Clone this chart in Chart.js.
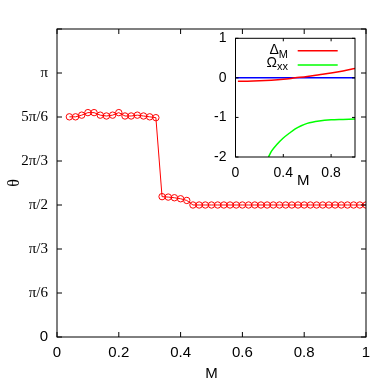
<!DOCTYPE html>
<html><head><meta charset="utf-8">
<script src="https://cdn.jsdelivr.net/npm/chart.js@4.4.0/dist/chart.umd.min.js"></script>
<style>
html,body{margin:0;padding:0;background:#fff;}
#wrap{position:relative;width:382px;height:382px;overflow:hidden;}
#main{position:absolute;left:0;top:0;}
#inset{position:absolute;left:185px;top:28px;}
</style></head><body>
<div id="wrap"><canvas id="main" width="382" height="382"></canvas><canvas id="inset" width="185" height="165"></canvas></div>
<script>
const PI = Math.PI;

// ---- main panel data ----
const mValues = [0.04,0.06,0.08,0.10,0.12,0.14,0.16,0.18,0.20,0.22,0.24,0.26,0.28,0.30,0.32,
  0.34,0.36,0.38,0.40,0.42,
  0.44,0.46,0.48,0.50,0.52,0.54,0.56,0.58,0.60,0.62,0.64,0.66,0.68,0.70,0.72,0.74,0.76,0.78,0.80,
  0.82,0.84,0.86,0.88,0.90,0.92,0.94,0.96,0.98,1.00];
const thetaValues = [2.62,2.62,2.64,2.67,2.67,2.64,2.63,2.64,2.67,2.63,2.63,2.64,2.63,2.62,2.61,
  1.67,1.665,1.657,1.645,1.625,
  1.5708,1.5708,1.5708,1.5708,1.5708,1.5708,1.5708,1.5708,1.5708,1.5708,1.5708,1.5708,1.5708,1.5708,1.5708,1.5708,1.5708,1.5708,1.5708,
  1.5708,1.5708,1.5708,1.5708,1.5708,1.5708,1.5708,1.5708,1.5708,1.5708];
const thetaTickValues = [0, PI/6, PI/3, PI/2, 2*PI/3, 5*PI/6, PI, 7*PI/6];
const thetaTickLabels = ['0','π/6','π/3','π/2','2π/3','5π/6','π',''];
const mTickValues = [0,0.2,0.4,0.6,0.8,1];
const mTickLabels = ['0','0.2','0.4','0.6','0.8','1'];

// ---- inset data ----
const insetDeltaM = [0.02,0.1,0.2,0.3,0.4,0.5,0.6,0.7,0.8,0.9,1.0];
const insetDeltaValues = [-0.085,-0.084,-0.076,-0.06,-0.036,0.0,0.035,0.078,0.122,0.175,0.238];
const insetOmegaM = [0.276,0.3,0.35,0.4,0.45,0.5,0.55,0.6,0.7,0.8,0.9,1.0];
const insetOmegaValues = [-2.0,-1.86,-1.67,-1.52,-1.40,-1.29,-1.21,-1.15,-1.09,-1.06,-1.05,-1.04];
const insetZeroM = [0,1];
const insetZeroValues = [0,0];
const insetXTickValues = [0,0.4,0.8];
const insetXTickLabels = ['0','0.4','0.8'];
const insetYTickValues = [-2,-1,0,1];
const insetYTickLabels = ['-2','-1','0','1'];

const SANS = '"Liberation Sans", Arial, sans-serif';
const SERIF = '"Liberation Serif", "Times New Roman", serif';

function pts(xs, ys){ return xs.map((x,i)=>({x:x,y:ys[i]})); }
function setTicks(values){ return function(scale){ scale.ticks = values.map(v=>({value:v})); }; }
function labelFrom(values, labels){ return function(v){ const i = values.findIndex(t=>Math.abs(t-v)<1e-9); return i<0?'':labels[i]; }; }
function fitTo(prop, size){ return function(s){ s[prop] = size; s.paddingTop = 0; s.paddingBottom = 0; s.paddingLeft = 0; s.paddingRight = 0; }; }

const boxTicksPlugin = {
  id: 'boxTicks',
  afterDatasetsDraw(chart, args, opts) {
    const {ctx, chartArea: a, scales} = chart;
    ctx.save();
    ctx.strokeStyle = opts.color || '#000';
    ctx.lineWidth = opts.width || 1;
    ctx.strokeRect(a.left, a.top, a.right - a.left, a.bottom - a.top);
    ctx.beginPath();
    (opts.xTicks||[]).forEach(v => {
      const px = scales.x.getPixelForValue(v);
      ctx.moveTo(px, a.bottom); ctx.lineTo(px, a.bottom - opts.len);
      ctx.moveTo(px, a.top); ctx.lineTo(px, a.top + opts.len);
    });
    (opts.yTicks||[]).forEach(v => {
      const py = scales.y.getPixelForValue(v);
      ctx.moveTo(a.left, py); ctx.lineTo(a.left + opts.len, py);
      ctx.moveTo(a.right, py); ctx.lineTo(a.right - opts.len, py);
    });
    ctx.stroke();
    ctx.restore();
  }
};

new Chart(document.getElementById('main'), {
  type: 'line',
  data: { datasets: [{
    data: pts(mValues, thetaValues),
    borderColor: '#ff0000', borderWidth: 1, tension: 0,
    pointStyle: 'circle', pointRadius: 3.2, pointBorderWidth: 1,
    pointBorderColor: '#ff0000', pointBackgroundColor: 'rgba(0,0,0,0)'
  }]},
  plugins: [boxTicksPlugin],
  options: {
    responsive: false, animation: false, devicePixelRatio: 1,
    layout: { padding: { top: 29, right: 16, left: 0, bottom: 0 } },
    plugins: { legend: {display:false}, tooltip: {enabled:false},
      boxTicks: { len: 5, color: '#000', width: 1, xTicks: mTickValues, yTicks: thetaTickValues } },
    scales: {
      x: { type: 'linear', min: 0, max: 1,
        afterBuildTicks: setTicks(mTickValues),
        afterFit: fitTo('height', 45),
        grid: { display: false, drawTicks: false }, border: { display: false },
        ticks: { padding: 7, color: '#000', font: { family: SANS, size: 15 }, callback: labelFrom(mTickValues, mTickLabels), maxRotation: 0 },
        title: { display: true, text: 'M', color: '#000', font: { family: SANS, size: 15, lineHeight: 1 }, padding: { top: 0, bottom: 1 } }
      },
      y: { type: 'linear', min: 0, max: 7*PI/6,
        afterBuildTicks: setTicks(thetaTickValues),
        afterFit: fitTo('width', 57),
        grid: { display: false, drawTicks: false }, border: { display: false },
        ticks: { padding: 9, color: '#000',
          font: ctx => (ctx.tick && ctx.tick.value === 0) ? { family: SANS, size: 15 } : { family: SERIF, size: 15 },
          callback: labelFrom(thetaTickValues, thetaTickLabels) },
        title: { display: true, text: 'θ', color: '#000', font: { family: SERIF, size: 16, lineHeight: 1 }, padding: { top: 7, bottom: 0 } }
      }
    }
  }
});

const insetDecorPlugin = {
  id: 'insetDecor',
  afterDraw(chart, args, opts) {
    const ctx = chart.ctx;
    ctx.save();
    ctx.fillStyle = '#000';
    ctx.textBaseline = 'alphabetic';
    function entry(main, sub, xr, yb, ys, color, ly) {
      ctx.font = '11px ' + SANS;
      const ws = ctx.measureText(sub).width;
      ctx.textAlign = 'right';
      ctx.fillText(sub, xr, ys);
      ctx.font = '14px ' + SANS;
      ctx.fillText(main, xr - ws, yb);
      ctx.strokeStyle = color; ctx.lineWidth = 1.5;
      ctx.beginPath(); ctx.moveTo(opts.lineX0, ly); ctx.lineTo(opts.lineX1, ly); ctx.stroke();
    }
    entry('Δ', 'M', 103, 25.5, 30.3, '#ff0000', 22.7);
    entry('Ω', 'xx', 103, 38.7, 41.5, '#00ff00', 37);
    ctx.font = '15px ' + SANS;
    ctx.textAlign = 'center'; ctx.textBaseline = 'middle';
    ctx.fillText('M', 118.3, 153);
    ctx.restore();
  }
};

new Chart(document.getElementById('inset'), {
  type: 'line',
  data: { datasets: [
    { data: pts(insetDeltaM, insetDeltaValues), borderColor: '#ff0000', borderWidth: 1.5, pointRadius: 0, cubicInterpolationMode: 'monotone' },
    { data: pts(insetOmegaM, insetOmegaValues), borderColor: '#00ff00', borderWidth: 1.5, pointRadius: 0, cubicInterpolationMode: 'monotone' },
    { data: pts(insetZeroM, insetZeroValues), borderColor: '#0000ff', borderWidth: 1.5, pointRadius: 0 }
  ]},
  plugins: [boxTicksPlugin, insetDecorPlugin],
  options: {
    responsive: false, animation: false, devicePixelRatio: 1,
    layout: { padding: { top: 10.3, right: 15, left: 0, bottom: 0 } },
    plugins: { legend: {display:false}, tooltip: {enabled:false},
      boxTicks: { len: 3, color: '#000', width: 1, xTicks: insetXTickValues, yTicks: insetYTickValues },
      insetDecor: { lineX0: 112.7, lineX1: 152.7 } },
    scales: {
      x: { type: 'linear', min: 0, max: 1,
        afterBuildTicks: setTicks(insetXTickValues),
        afterFit: fitTo('height', 36),
        grid: { display: false, drawTicks: false }, border: { display: false },
        ticks: { padding: 7.5, color: '#000', font: { family: SANS, size: 14 }, callback: labelFrom(insetXTickValues, insetXTickLabels), maxRotation: 0 }
      },
      y: { type: 'linear', min: -2, max: 1,
        afterBuildTicks: setTicks(insetYTickValues),
        afterFit: fitTo('width', 50.5),
        grid: { display: false, drawTicks: false }, border: { display: false },
        ticks: { padding: 9, color: '#000', font: { family: SANS, size: 14 }, callback: labelFrom(insetYTickValues, insetYTickLabels) }
      }
    }
  }
});
</script>
</body></html>
